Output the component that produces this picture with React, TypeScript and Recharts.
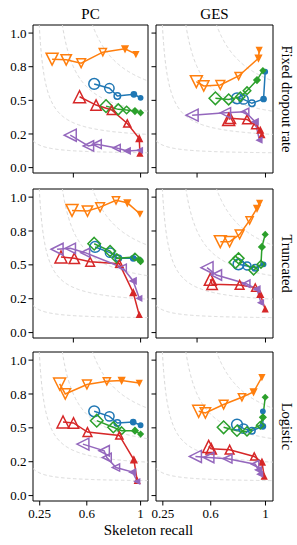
import React from 'react';
import { ComposedChart, Line, XAxis, YAxis, ReferenceArea } from 'recharts';

// ---------- axes / labels ----------
const X_DOMAIN: [number, number] = [0.2, 1.055];
const Y_DOMAIN: [number, number] = [-0.04, 1.06];
const Y_TICKS = [0, 0.25, 0.5, 0.75, 1];
const Y_TICK_LABELS = ['0.0', '0.2', '0.5', '0.8', '1.0'];
const X_TICKS_INNER = [0.5, 1];
const X_TICKS_BOTTOM = [0.25, 0.6, 1];
const X_TICK_LABELS_BOTTOM = ['0.25', '0.6', '1'];
const METHODS = ['PC', 'GES'];
const SETTINGS = ['Fixed dropout rate', 'Truncated', 'Logistic'];
const X_LABEL = 'Skeleton recall';
const F1_LEVELS = [0.2, 0.4, 0.6, 0.8];

// ---------- data: [skeleton recall, skeleton precision] ----------
// Fixed dropout rate — PC
const PC_FIXED_BLUE = [[0.655, 0.622], [0.768, 0.59], [0.827, 0.532], [0.95, 0.545], [1.0, 0.519]];
const PC_FIXED_ORANGE = [[0.342, 0.806], [0.447, 0.801], [0.558, 0.776], [0.719, 0.858], [0.884, 0.883], [0.965, 0.843]];
const PC_FIXED_GREEN = [[0.743, 0.457], [0.834, 0.433], [0.896, 0.428], [0.958, 0.42], [1.0, 0.407]];
const PC_FIXED_RED = [[0.546, 0.527], [0.669, 0.465], [0.785, 0.428], [0.901, 0.328], [0.99, 0.216], [0.995, 0.104]];
const PC_FIXED_PURPLE = [[0.477, 0.241], [0.612, 0.161], [0.675, 0.174], [0.822, 0.146], [0.901, 0.124], [0.995, 0.129]];
// Fixed dropout rate — GES
const GES_FIXED_BLUE = [[0.792, 0.515], [0.84, 0.507], [0.901, 0.478], [0.986, 0.51], [0.998, 0.713]];
const GES_FIXED_ORANGE = [[0.495, 0.639], [0.549, 0.607], [0.67, 0.614], [0.804, 0.681], [0.949, 0.813], [0.954, 0.875]];
const GES_FIXED_GREEN = [[0.634, 0.515], [0.731, 0.507], [0.816, 0.527], [0.865, 0.572], [0.938, 0.651], [0.981, 0.721]];
const GES_FIXED_RED = [[0.731, 0.358], [0.743, 0.366], [0.865, 0.358], [0.925, 0.316], [0.962, 0.278], [0.974, 0.241]];
const GES_FIXED_PURPLE = [[0.464, 0.39], [0.707, 0.407], [0.852, 0.415], [0.925, 0.34], [0.956, 0.204]];
// Truncated — PC
const PC_TRUNC_BLUE = [[0.662, 0.632], [0.773, 0.59], [0.834, 0.548], [0.945, 0.548], [0.995, 0.534]];
const PC_TRUNC_ORANGE = [[0.49, 0.902], [0.605, 0.897], [0.699, 0.926], [0.817, 0.976], [0.901, 0.958], [0.995, 0.877]];
const PC_TRUNC_GREEN = [[0.655, 0.656], [0.773, 0.602], [0.823, 0.548], [0.958, 0.558], [0.995, 0.534], [1.0, 0.523]];
const PC_TRUNC_RED = [[0.408, 0.558], [0.507, 0.548], [0.625, 0.523], [0.842, 0.508], [0.945, 0.295], [0.99, 0.13]];
const PC_TRUNC_PURPLE = [[0.379, 0.615], [0.477, 0.622], [0.588, 0.59], [0.867, 0.479], [0.945, 0.381], [0.99, 0.253]];
// Truncated — GES
const GES_TRUNC_BLUE = [[0.803, 0.504], [0.865, 0.492], [0.925, 0.479], [0.986, 0.504]];
const GES_TRUNC_ORANGE = [[0.67, 0.671], [0.738, 0.671], [0.811, 0.725], [0.884, 0.828], [0.938, 0.917], [0.957, 0.958]];
const GES_TRUNC_GREEN = [[0.78, 0.52], [0.803, 0.548], [0.913, 0.46], [0.967, 0.504], [0.974, 0.632], [0.998, 0.725]];
const GES_TRUNC_RED = [[0.597, 0.393], [0.61, 0.357], [0.811, 0.352], [0.925, 0.332], [0.962, 0.283], [0.998, 0.172]];
const GES_TRUNC_PURPLE = [[0.573, 0.479], [0.641, 0.425], [0.86, 0.361], [0.938, 0.32], [0.967, 0.221]];
// Logistic — PC
const PC_LOG_BLUE = [[0.655, 0.622], [0.768, 0.585], [0.827, 0.536], [0.945, 0.543], [1.0, 0.519]];
const PC_LOG_ORANGE = [[0.398, 0.824], [0.44, 0.75], [0.601, 0.82], [0.749, 0.844], [0.859, 0.85], [0.99, 0.832]];
const PC_LOG_GREEN = [[0.674, 0.553], [0.797, 0.504], [0.859, 0.479], [0.958, 0.479], [1.0, 0.454]];
const PC_LOG_RED = [[0.423, 0.543], [0.501, 0.536], [0.605, 0.469], [0.842, 0.444], [0.95, 0.264], [0.975, 0.109]];
const PC_LOG_PURPLE = [[0.571, 0.38], [0.729, 0.331], [0.749, 0.281], [0.817, 0.207], [0.941, 0.173], [0.975, 0.104]];
// Logistic — GES
const GES_LOG_BLUE = [[0.792, 0.524], [0.84, 0.494], [0.901, 0.479], [0.981, 0.511], [0.981, 0.622]];
const GES_LOG_ORANGE = [[0.512, 0.622], [0.561, 0.61], [0.694, 0.672], [0.828, 0.726], [0.913, 0.765], [0.974, 0.874]];
const GES_LOG_GREEN = [[0.694, 0.504], [0.792, 0.479], [0.865, 0.474], [0.962, 0.519], [0.981, 0.578], [0.998, 0.726]];
const GES_LOG_RED = [[0.585, 0.363], [0.603, 0.346], [0.738, 0.339], [0.918, 0.289], [0.974, 0.247], [0.991, 0.141]];
const GES_LOG_PURPLE = [[0.488, 0.289], [0.585, 0.281], [0.723, 0.272], [0.925, 0.232], [0.949, 0.19], [0.961, 0.158]];

// ---------- styles ----------
const COLORS = { blue: '#1f77b4', orange: '#ff7f0e', green: '#2ca02c', red: '#d62728', purple: '#9467bd' };
const SHAPES = { blue: 'o', orange: 'v', green: 'D', red: '^', purple: '<' };
const MARKER_R = [6, 5.2, 4.4, 3.6, 2.9, 2.4];
const FONT = 'Liberation Serif, Times New Roman, serif';

type Pair = number[];
const PANELS: Record<string, Pair[]>[] = [
  { blue: PC_FIXED_BLUE, orange: PC_FIXED_ORANGE, green: PC_FIXED_GREEN, red: PC_FIXED_RED, purple: PC_FIXED_PURPLE },
  { blue: GES_FIXED_BLUE, orange: GES_FIXED_ORANGE, green: GES_FIXED_GREEN, red: GES_FIXED_RED, purple: GES_FIXED_PURPLE },
  { blue: PC_TRUNC_BLUE, orange: PC_TRUNC_ORANGE, green: PC_TRUNC_GREEN, red: PC_TRUNC_RED, purple: PC_TRUNC_PURPLE },
  { blue: GES_TRUNC_BLUE, orange: GES_TRUNC_ORANGE, green: GES_TRUNC_GREEN, red: GES_TRUNC_RED, purple: GES_TRUNC_PURPLE },
  { blue: PC_LOG_BLUE, orange: PC_LOG_ORANGE, green: PC_LOG_GREEN, red: PC_LOG_RED, purple: PC_LOG_PURPLE },
  { blue: GES_LOG_BLUE, orange: GES_LOG_ORANGE, green: GES_LOG_GREEN, red: GES_LOG_RED, purple: GES_LOG_PURPLE },
];
const SERIES_ORDER = ['blue', 'orange', 'green', 'red', 'purple'];

// iso-F1 reference curves: precision = f*r / (2r - f)
const contour = (f: number) => {
  const pts: { x: number; y: number }[] = [];
  const rStart = Math.max(X_DOMAIN[0], (f * 1.2) / (2 * 1.2 - f));
  const n = 160;
  for (let i = 0; i <= n; i++) {
    const r = rStart + ((X_DOMAIN[1] + 0.01 - rStart) * i) / n;
    pts.push({ x: r, y: (f * r) / (2 * r - f) });
  }
  return pts;
};
const CONTOURS = F1_LEVELS.map(contour);

// layout
const COLS = [{ x: 33, w: 115 }, { x: 156, w: 117 }];
const ROWS = [{ y: 25, h: 148 }, { y: 189, h: 149 }, { y: 352, h: 149 }];
const YW = 30, MT = 4, MR = 4, XH = 30;

function Marker({ cx, cy, r, shape, color }: any) {
  const common = { fill: r < 3 ? color : 'none', stroke: color, strokeWidth: 1.5, strokeLinejoin: 'miter' as const };
  if (shape === 'o') return <circle cx={cx} cy={cy} r={r * 0.9} {...common} />;
  let pts = '';
  if (shape === 'v') pts = `${cx},${cy + r} ${cx - r},${cy - r} ${cx + r},${cy - r}`;
  else if (shape === '^') pts = `${cx},${cy - r} ${cx - r},${cy + r} ${cx + r},${cy + r}`;
  else if (shape === '<') pts = `${cx - r},${cy} ${cx + r},${cy - r} ${cx + r},${cy + r}`;
  else pts = `${cx},${cy - r * 1.05} ${cx + r * 1.05},${cy} ${cx},${cy + r * 1.05} ${cx - r * 1.05},${cy}`;
  return <polygon points={pts} {...common} />;
}

function Panel({ row, col }: { row: number; col: number }) {
  const { x, w } = COLS[col];
  const { y, h } = ROWS[row];
  const data = PANELS[row * 2 + col];
  const bottom = row === 2;
  const showY = col === 0;
  return (
    <div style={{ position: 'absolute', left: x - YW, top: y - MT }}>
      <ComposedChart width={YW + w + MR} height={MT + h + XH} margin={{ top: MT, right: MR, bottom: 0, left: 0 }}>
        <XAxis
          type="number"
          dataKey="x"
          domain={X_DOMAIN}
          allowDataOverflow
          ticks={bottom ? X_TICKS_BOTTOM : X_TICKS_INNER}
          interval={0}
          axisLine={false}
          tickSize={4.5}
          tickMargin={3}
          tickLine={{ stroke: '#000', strokeWidth: 1 }}
          tick={{ fill: '#000', fontSize: 13, fontFamily: FONT }}
          tickFormatter={(v: number) => (bottom ? X_TICK_LABELS_BOTTOM[X_TICKS_BOTTOM.indexOf(v)] : '')}
          height={XH}
        />
        <YAxis
          type="number"
          dataKey="y"
          domain={Y_DOMAIN}
          allowDataOverflow
          ticks={Y_TICKS}
          interval={0}
          axisLine={false}
          tickSize={4.5}
          tickMargin={2}
          tickLine={{ stroke: '#000', strokeWidth: 1 }}
          tick={{ fill: '#000', fontSize: 13, fontFamily: FONT }}
          tickFormatter={(v: number) => (showY ? Y_TICK_LABELS[Y_TICKS.indexOf(v)] : '')}
          width={YW}
        />
        {CONTOURS.map((c, i) => (
          <Line
            key={`c${i}`}
            data={c}
            dataKey="y"
            type="linear"
            stroke="#d9d9d9"
            strokeWidth={1}
            strokeDasharray="3.5 2.5"
            dot={false}
            activeDot={false}
            isAnimationActive={false}
          />
        ))}
        {SERIES_ORDER.map((s) => {
          const pts = data[s].map((p) => ({ x: p[0], y: p[1] }));
          const n = pts.length;
          const color = (COLORS as any)[s];
          const shape = (SHAPES as any)[s];
          return (
            <Line
              key={s}
              data={pts}
              dataKey="y"
              type="linear"
              stroke={color}
              strokeWidth={1.5}
              activeDot={false}
              isAnimationActive={false}
              dot={(props: any) => {
                const idx = props.index;
                const sizeIdx = n >= 6 ? idx : Math.round((idx * 5) / Math.max(1, n - 1));
                return (
                  <Marker key={`m${s}${idx}`} cx={props.cx} cy={props.cy} r={MARKER_R[sizeIdx]} shape={shape} color={color} />
                );
              }}
            />
          );
        })}
        <ReferenceArea
          x1={X_DOMAIN[0]}
          x2={X_DOMAIN[1]}
          y1={Y_DOMAIN[0]}
          y2={Y_DOMAIN[1]}
          fill="none"
          stroke="#000"
          strokeWidth={1}
          ifOverflow="visible"
        />
      </ComposedChart>
    </div>
  );
}

export default function App() {
  return (
    <div style={{ position: 'absolute', left: 0, top: 0, width: 297, height: 545, background: '#fff', overflow: 'hidden' }}>
      {[0, 1, 2].map((r) => [0, 1].map((c) => <Panel key={`${r}-${c}`} row={r} col={c} />))}
      <svg width={297} height={545} style={{ position: 'absolute', left: 0, top: 0, pointerEvents: 'none' }}>
        {METHODS.map((m, i) => (
          <text key={m} x={COLS[i].x + COLS[i].w / 2} y={18.5} textAnchor="middle" fontSize={15} fontFamily={FONT} fill="#000">
            {m}
          </text>
        ))}
        {SETTINGS.map((s, i) => (
          <text
            key={s}
            transform={`translate(281.5, ${ROWS[i].y + ROWS[i].h / 2}) rotate(90)`}
            textAnchor="middle"
            fontSize={14.5}
            fontFamily={FONT}
            fill="#000"
          >
            {s}
          </text>
        ))}
        <text x={148.5} y={535} textAnchor="middle" fontSize={15} fontFamily={FONT} fill="#000">
          {X_LABEL}
        </text>
      </svg>
    </div>
  );
}
